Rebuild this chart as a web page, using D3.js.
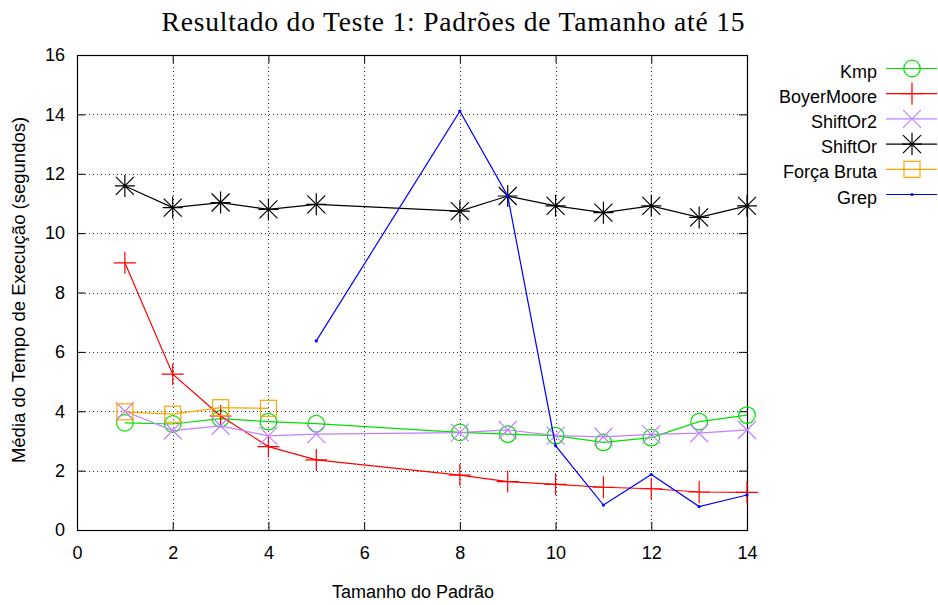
<!DOCTYPE html>
<html>
<head>
<meta charset="utf-8">
<script src="https://cdn.jsdelivr.net/npm/d3@7"></script>
<style>
  body { margin: 0; background: #fff; }
  text { font-family: "Liberation Sans", Arial, sans-serif; }
</style>
</head>
<body>
<svg width="938" height="605"></svg>
<script>
// data
var x_ticks = [0, 2, 4, 6, 8, 10, 12, 14];
var y_ticks = [0, 2, 4, 6, 8, 10, 12, 14, 16];

var kmp_x = [1, 2, 3, 4, 5, 8, 9, 10, 11, 12, 13, 14];
var kmp_y = [3.61, 3.57, 3.75, 3.65, 3.58, 3.29, 3.23, 3.18, 2.95, 3.11, 3.65, 3.87];

var boyer_x = [1, 2, 3, 4, 5, 8, 9, 10, 11, 12, 13, 14];
var boyer_y = [9.0, 5.25, 3.84, 2.81, 2.36, 1.85, 1.63, 1.54, 1.44, 1.39, 1.28, 1.27];

var shiftor2_x = [1, 2, 3, 4, 5, 8, 9, 10, 11, 12, 13, 14];
var shiftor2_y = [4.0, 3.35, 3.51, 3.17, 3.23, 3.28, 3.37, 3.18, 3.14, 3.22, 3.26, 3.37];

var shiftor_x = [1, 2, 3, 4, 5, 8, 9, 10, 11, 12, 13, 14];
var shiftor_y = [11.59, 10.86, 11.03, 10.80, 10.97, 10.74, 11.25, 10.92, 10.69, 10.92, 10.53, 10.92];

var forca_x = [1, 2, 3, 4];
var forca_y = [3.98, 3.90, 4.12, 4.10];

var grep_x = [5, 8, 9, 10, 11, 12, 13, 14];
var grep_y = [6.37, 14.11, 11.25, 2.84, 0.84, 1.87, 0.79, 1.18];

var series = [
  {name: "Kmp", xs: kmp_x, ys: kmp_y, color: "#00e000", mark: "circle"},
  {name: "BoyerMoore", xs: boyer_x, ys: boyer_y, color: "#ff0000", mark: "plus"},
  {name: "ShiftOr2", xs: shiftor2_x, ys: shiftor2_y, color: "#c080ff", mark: "cross"},
  {name: "ShiftOr", xs: shiftor_x, ys: shiftor_y, color: "#000000", mark: "star"},
  {name: "Força Bruta", xs: forca_x, ys: forca_y, color: "#ffa500", mark: "square"},
  {name: "Grep", xs: grep_x, ys: grep_y, color: "#0000ff", mark: "dot"}
];

// display
var plot = {left: 77, right: 747, top: 55, bot: 530};
var font_px = 18;

var svg = d3.select("svg");
var x = d3.scaleLinear().domain([0, 14]).range([plot.left, plot.right]);
var y = d3.scaleLinear().domain([0, 16]).range([plot.bot, plot.top]);

// grid
var grid = svg.append("g").attr("class", "grid-layer");
grid.selectAll(".vgrid")
    .data(x_ticks.filter(function(t) { return t > 0 && t < 14; }))
    .enter().append("line")
    .attr("x1", function(d) { return Math.round(x(d)) + 0.5; })
    .attr("x2", function(d) { return Math.round(x(d)) + 0.5; })
    .attr("y1", plot.top).attr("y2", plot.bot)
    .attr("stroke", "#333").attr("stroke-width", 1)
    .attr("stroke-dasharray", "1,3");
grid.selectAll(".hgrid")
    .data(y_ticks.filter(function(t) { return t > 0 && t < 16; }))
    .enter().append("line")
    .attr("y1", function(d) { return Math.round(y(d)) + 0.5; })
    .attr("y2", function(d) { return Math.round(y(d)) + 0.5; })
    .attr("x1", plot.left).attr("x2", plot.right)
    .attr("stroke", "#333").attr("stroke-width", 1)
    .attr("stroke-dasharray", "1,3");

// axes (ticks inward, mirrored)
var xb = svg.append("g").attr("transform", "translate(0," + plot.bot + ")")
    .call(d3.axisBottom(x).tickValues(x_ticks).tickSizeInner(-8).tickSizeOuter(0).tickPadding(16));
var xt = svg.append("g").attr("transform", "translate(0," + plot.top + ")")
    .call(d3.axisTop(x).tickValues(x_ticks).tickSizeInner(-8).tickSizeOuter(0).tickFormat(""));
var yl = svg.append("g").attr("transform", "translate(" + plot.left + ",0)")
    .call(d3.axisLeft(y).tickValues(y_ticks).tickSizeInner(-8).tickSizeOuter(0).tickPadding(12));
var yr = svg.append("g").attr("transform", "translate(" + plot.right + ",0)")
    .call(d3.axisRight(y).tickValues(y_ticks).tickSizeInner(-8).tickSizeOuter(0).tickFormat(""));

[xb, xt, yl, yr].forEach(function(a) {
  a.selectAll(".domain").remove();
  a.selectAll("line").attr("stroke", "#000");
  a.selectAll("text").attr("font-size", font_px).attr("fill", "#000")
    .style("font-family", "'Liberation Sans', Arial, sans-serif");
});

svg.append("rect")
    .attr("x", plot.left + 0.5).attr("y", plot.top + 0.5)
    .attr("width", plot.right - plot.left).attr("height", plot.bot - plot.top)
    .attr("fill", "none").attr("stroke", "#000").attr("stroke-width", 1.2);

// markers
function draw_mark(g, kind, cx, cy, color) {
  if (kind == "circle") {
    g.append("circle").attr("cx", cx).attr("cy", cy).attr("r", 8.3)
      .attr("fill", "none").attr("stroke", color).attr("stroke-width", 1.2);
  } else if (kind == "plus") {
    g.append("path").attr("d", "M" + (cx - 11) + "," + cy + "H" + (cx + 11) + "M" + cx + "," + (cy - 11) + "V" + (cy + 11))
      .attr("stroke", color).attr("stroke-width", 1.2);
  } else if (kind == "cross") {
    g.append("path").attr("d", "M" + (cx - 9) + "," + (cy - 9) + "L" + (cx + 9) + "," + (cy + 9) + "M" + (cx - 9) + "," + (cy + 9) + "L" + (cx + 9) + "," + (cy - 9))
      .attr("stroke", color).attr("stroke-width", 1.2);
  } else if (kind == "star") {
    g.append("path").attr("d", "M" + (cx - 10) + "," + cy + "H" + (cx + 10) + "M" + cx + "," + (cy - 11) + "V" + (cy + 11) +
        "M" + (cx - 9) + "," + (cy - 9) + "L" + (cx + 9) + "," + (cy + 9) + "M" + (cx - 9) + "," + (cy + 9) + "L" + (cx + 9) + "," + (cy - 9))
      .attr("stroke", color).attr("stroke-width", 1.2);
  } else if (kind == "square") {
    g.append("rect").attr("x", cx - 8).attr("y", cy - 8).attr("width", 16).attr("height", 16)
      .attr("fill", "none").attr("stroke", color).attr("stroke-width", 1.2);
  } else if (kind == "dot") {
    g.append("circle").attr("cx", cx).attr("cy", cy).attr("r", 1.6).attr("fill", color);
  }
}

var line = d3.line().x(function(d) { return x(d[0]); }).y(function(d) { return y(d[1]); });

var data_layer = svg.append("g").attr("class", "data-layer");
series.forEach(function(s) {
  var pts = s.xs.map(function(v, i) { return [v, s.ys[i]]; });
  var g = data_layer.append("g");
  g.append("path").attr("d", line(pts)).attr("fill", "none")
    .attr("stroke", s.color).attr("stroke-width", 1.2);
  pts.forEach(function(p) { draw_mark(g, s.mark, x(p[0]), y(p[1]), s.color); });
});

// legend
var legend = svg.append("g");
series.forEach(function(s, i) {
  var ly = 68.5 + i * 25.2;
  legend.append("text").attr("x", 877).attr("y", ly + 9)
    .attr("text-anchor", "end").attr("font-size", font_px).attr("fill", "#000").text(s.name);
  legend.append("line").attr("x1", 886).attr("x2", 937).attr("y1", ly).attr("y2", ly)
    .attr("stroke", s.color).attr("stroke-width", 1.2);
  draw_mark(legend, s.mark, 912, ly, s.color);
});

// titles
svg.append("text").attr("x", 453).attr("y", 31).attr("text-anchor", "middle")
  .style("font-family", "'Liberation Serif', 'DejaVu Serif', serif")
  .attr("font-size", 27.5).attr("fill", "#000")
  .attr("textLength", 583).attr("lengthAdjust", "spacing")
  .text("Resultado do Teste 1: Padrões de Tamanho até 15");
svg.append("text").attr("x", 413).attr("y", 598).attr("text-anchor", "middle")
  .attr("font-size", font_px).attr("fill", "#000").text("Tamanho do Padrão");
svg.append("text").attr("transform", "translate(25,290) rotate(-90)").attr("text-anchor", "middle")
  .attr("font-size", 18.5).attr("fill", "#000").text("Média do Tempo de Execução (segundos)");
</script>
</body>
</html>
